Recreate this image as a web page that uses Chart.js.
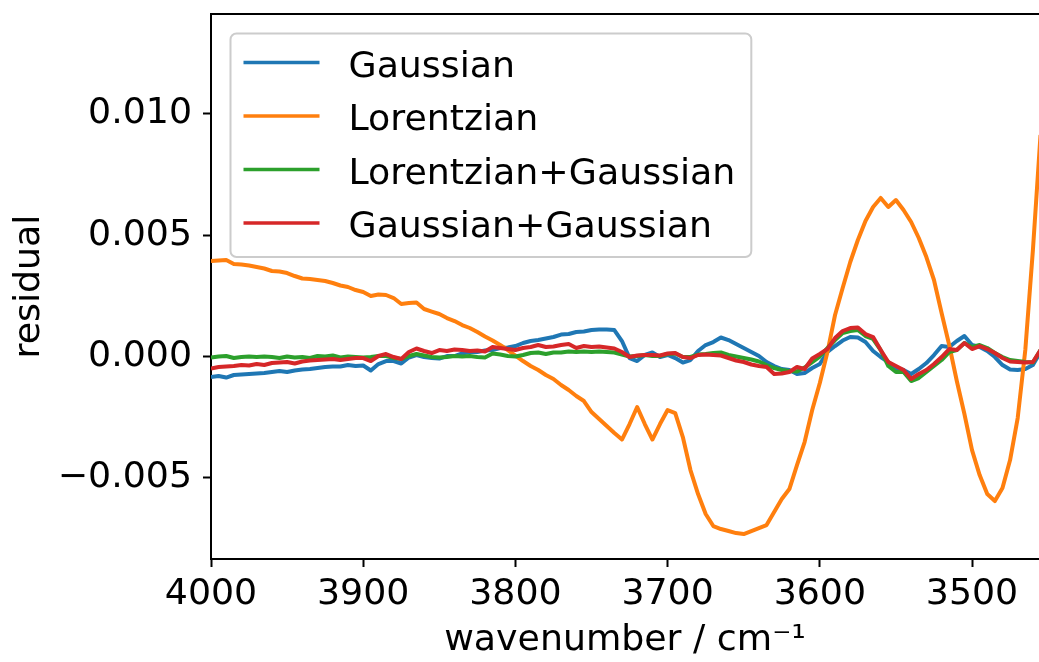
<!DOCTYPE html>
<html>
<head>
<meta charset="utf-8">
<script src="https://cdn.jsdelivr.net/npm/chart.js@4.4.0/dist/chart.umd.min.js"></script>
<style>
  html, body { margin: 0; padding: 0; background: #fff; }
  #wrap { width: 1039px; height: 662px; }
</style>
</head>
<body>
<div id="wrap"><canvas id="residualChart" width="1039" height="662"></canvas></div>
<script>
// --- data (wavenumber in cm^-1, residuals) ---
const wavenumber = [
  4000, 3995, 3990, 3985, 3980, 3975, 3970, 3965, 3960, 3955,
  3950, 3945, 3940, 3935, 3930, 3925, 3920, 3915, 3910, 3905,
  3900, 3895, 3890, 3885, 3880, 3875, 3870, 3865, 3860, 3855,
  3850, 3845, 3840, 3835, 3830, 3825, 3820, 3815, 3810, 3805,
  3800, 3795, 3790, 3785, 3780, 3775, 3770, 3765, 3760, 3755,
  3750, 3745, 3740, 3735, 3730, 3725, 3720, 3715, 3710, 3705,
  3700, 3695, 3690, 3685, 3680, 3675, 3670, 3665, 3660, 3655,
  3650, 3645, 3640, 3635, 3630, 3625, 3620, 3615, 3610, 3605,
  3600, 3595, 3590, 3585, 3580, 3575, 3570, 3565, 3560, 3555,
  3550, 3545, 3540, 3535, 3530, 3525, 3520, 3515, 3510, 3505,
  3500, 3495, 3490, 3485, 3480, 3475, 3470, 3465, 3460, 3455
];

const gaussian = [
  -0.000854, -0.000813, -0.000875, -0.000771, -0.000751, -0.000730, -0.000710, -0.000689, -0.000648, -0.000606,
  -0.000648, -0.000586, -0.000545, -0.000524, -0.000483, -0.000441, -0.000421, -0.000421, -0.000359, -0.000400,
  -0.000380, -0.000586, -0.000318, -0.000194, -0.000194, -0.000297, -0.000050, 0.000054, -0.000029, -0.000070,
  -0.000091, 0.000012, 0.000012, 0.000116, 0.000177, 0.000177, 0.000239, 0.000260, 0.000342, 0.000363,
  0.000425, 0.000549, 0.000631, 0.000672, 0.000734, 0.000796, 0.000899, 0.000920, 0.001002, 0.001023,
  0.001085, 0.001106, 0.001106, 0.001085, 0.000631, -0.000070, -0.000194, 0.000054, 0.000157, -0.000029,
  0.000054, -0.000070, -0.000256, -0.000153, 0.000219, 0.000466, 0.000590, 0.000776, 0.000672, 0.000507,
  0.000342, 0.000177, 0.000012, -0.000235, -0.000400, -0.000524, -0.000565, -0.000730, -0.000689, -0.000483,
  -0.000318, 0.000177, 0.000425, 0.000652, 0.000796, 0.000776, 0.000590, 0.000219, -0.000029, -0.000235,
  -0.000483, -0.000565, -0.000730, -0.000524, -0.000276, 0.000054, 0.000425, 0.000384, 0.000631, 0.000837,
  0.000466, 0.000384, 0.000219, -0.000029, -0.000359, -0.000545, -0.000565, -0.000524, -0.000359, 0.000177
];

const lorentzian = [
  0.003931, 0.003952, 0.003973, 0.003808, 0.003787, 0.003746, 0.003684, 0.003622, 0.003519, 0.003498,
  0.003436, 0.003312, 0.003210, 0.003189, 0.003148, 0.003106, 0.003024, 0.002921, 0.002859, 0.002735,
  0.002653, 0.002488, 0.002550, 0.002529, 0.002405, 0.002158, 0.002199, 0.002219, 0.001951, 0.001847,
  0.001745, 0.001580, 0.001456, 0.001291, 0.001168, 0.001002, 0.000817, 0.000652, 0.000466, 0.000260,
  0.000033, -0.000194, -0.000400, -0.000565, -0.000771, -0.000936, -0.001184, -0.001390, -0.001638, -0.001844,
  -0.002298, -0.002587, -0.002875, -0.003164, -0.003432, -0.002793, -0.002092, -0.002793, -0.003432, -0.002793,
  -0.002215, -0.002339, -0.003329, -0.004690, -0.005681, -0.006506, -0.007001, -0.007125, -0.007207, -0.007290,
  -0.007331, -0.007207, -0.007083, -0.006960, -0.006423, -0.005887, -0.005474, -0.004484, -0.003536, -0.002215,
  -0.001101, 0.000177, 0.001704, 0.002818, 0.003890, 0.004798, 0.005582, 0.006159, 0.006531, 0.006159,
  0.006448, 0.006035, 0.005540, 0.004880, 0.004096, 0.003148, 0.001786, 0.000466, -0.001019, -0.002380,
  -0.003866, -0.004897, -0.005681, -0.005969, -0.005433, -0.004278, -0.002545, 0.000260, 0.004386, 0.009130
];

const lorentzGauss = [
  -0.000050, -0.000008, 0.000012, -0.000070, -0.000029, -0.000008, -0.000029, -0.000008, -0.000029, -0.000070,
  -0.000008, -0.000050, -0.000029, -0.000070, 0.000012, -0.000008, 0.000033, -0.000050, -0.000008, -0.000029,
  -0.000050, -0.000029, 0.000012, 0.000012, -0.000070, -0.000111, 0.000012, 0.000095, 0.000033, -0.000029,
  -0.000050, -0.000029, 0.000012, -0.000008, 0.000012, -0.000029, -0.000050, 0.000116, 0.000074, 0.000012,
  -0.000008, 0.000054, 0.000136, 0.000157, 0.000095, 0.000157, 0.000157, 0.000198, 0.000177, 0.000198,
  0.000177, 0.000198, 0.000177, 0.000157, 0.000074, -0.000008, 0.000012, 0.000054, 0.000012, 0.000012,
  0.000095, 0.000116, -0.000029, -0.000029, 0.000074, 0.000095, 0.000136, 0.000157, 0.000054, -0.000008,
  -0.000070, -0.000132, -0.000215, -0.000359, -0.000483, -0.000565, -0.000606, -0.000627, -0.000462, -0.000235,
  -0.000008, 0.000342, 0.000672, 0.000961, 0.001044, 0.001085, 0.000837, 0.000714, 0.000260, -0.000400,
  -0.000648, -0.000648, -0.001019, -0.000895, -0.000648, -0.000400, -0.000153, 0.000177, 0.000260, 0.000549,
  0.000384, 0.000466, 0.000342, 0.000136, -0.000029, -0.000153, -0.000194, -0.000235, -0.000256, 0.000260
];

const gaussGauss = [
  -0.000503, -0.000441, -0.000421, -0.000400, -0.000359, -0.000380, -0.000318, -0.000359, -0.000276, -0.000256,
  -0.000235, -0.000297, -0.000215, -0.000173, -0.000153, -0.000132, -0.000111, -0.000153, -0.000111, -0.000070,
  -0.000070, -0.000194, 0.000012, 0.000095, -0.000029, -0.000111, 0.000177, 0.000322, 0.000219, 0.000136,
  0.000260, 0.000219, 0.000281, 0.000260, 0.000219, 0.000239, 0.000198, 0.000384, 0.000342, 0.000301,
  0.000260, 0.000342, 0.000384, 0.000466, 0.000384, 0.000404, 0.000466, 0.000507, 0.000342, 0.000425,
  0.000384, 0.000404, 0.000363, 0.000322, 0.000177, -0.000029, 0.000033, 0.000054, 0.000054, 0.000033,
  0.000116, 0.000136, -0.000029, -0.000070, 0.000054, 0.000074, 0.000054, 0.000033, -0.000070, -0.000173,
  -0.000235, -0.000338, -0.000400, -0.000441, -0.000730, -0.000710, -0.000648, -0.000441, -0.000524, -0.000091,
  0.000095, 0.000301, 0.000755, 0.001044, 0.001167, 0.001188, 0.000920, 0.000796, 0.000260, -0.000235,
  -0.000400, -0.000565, -0.000936, -0.000730, -0.000565, -0.000318, -0.000029, 0.000301, 0.000260, 0.000549,
  0.000301, 0.000425, 0.000301, 0.000136, -0.000070, -0.000215, -0.000235, -0.000256, -0.000235, 0.000260
];

const seriesNames = ['Gaussian', 'Lorentzian', 'Lorentzian+Gaussian', 'Gaussian+Gaussian'];
const seriesColors = ['#1f77b4', '#ff7f0e', '#2ca02c', '#d62728'];
const xTicks = [4000, 3900, 3800, 3700, 3600, 3500];
const yTicks = [-0.005, 0, 0.005, 0.010];

// --- style ---
const FONT = "'DejaVu Sans', sans-serif";
const FONT_SIZE = 36.3;

const toPoints = (ys) => wavenumber.map((w, i) => ({ x: w, y: ys[i] }));

// top spine (Chart.js only draws the axis borders)
const frame = {
  id: 'frame',
  afterDraw(chart) {
    const { ctx, chartArea: a } = chart;
    ctx.save();
    ctx.strokeStyle = '#000';
    ctx.lineWidth = 2;
    ctx.beginPath();
    ctx.moveTo(a.left - 1, a.top);
    ctx.lineTo(a.right, a.top);
    ctx.stroke();
    ctx.restore();
  }
};

// legend drawn inside the plot, matplotlib style
const insetLegend = {
  id: 'insetLegend',
  afterDraw(chart) {
    const { ctx, chartArea: a } = chart;
    ctx.save();
    ctx.font = `${FONT_SIZE}px ${FONT}`;
    const labels = chart.data.datasets.map(d => d.label);
    const maxW = Math.max(...labels.map(t => ctx.measureText(t).width));
    const x0 = a.left + 19.5, y0 = a.top + 19.5;
    const w = 118 + maxW + 16, rowH = 53.5, h = 29 + rowH * (labels.length - 1) + 34;
    const r = 6;

    ctx.beginPath();
    ctx.moveTo(x0 + r, y0);
    ctx.arcTo(x0 + w, y0, x0 + w, y0 + h, r);
    ctx.arcTo(x0 + w, y0 + h, x0, y0 + h, r);
    ctx.arcTo(x0, y0 + h, x0, y0, r);
    ctx.arcTo(x0, y0, x0 + w, y0, r);
    ctx.closePath();
    ctx.fillStyle = 'rgba(255,255,255,0.8)';
    ctx.fill();
    ctx.strokeStyle = '#cccccc';
    ctx.lineWidth = 2;
    ctx.stroke();

    chart.data.datasets.forEach((d, i) => {
      const cy = y0 + 29 + i * rowH;
      ctx.strokeStyle = d.borderColor;
      ctx.lineWidth = 3.5;
      ctx.beginPath();
      ctx.moveTo(x0 + 13, cy);
      ctx.lineTo(x0 + 89, cy);
      ctx.stroke();
      ctx.fillStyle = '#000';
      ctx.textBaseline = 'alphabetic';
      ctx.textAlign = 'left';
      ctx.fillText(d.label, x0 + 118, cy + 14);
    });
    ctx.restore();
  }
};

const allSeries = [gaussian, lorentzian, lorentzGauss, gaussGauss];

const datasets = allSeries.map((ys, i) => ({
  label: seriesNames[i],
  data: toPoints(ys),
  borderColor: seriesColors[i],
  backgroundColor: seriesColors[i],
  borderWidth: 4,
  pointRadius: 0,
  fill: false,
  tension: 0,
  borderJoinStyle: 'round',
  order: allSeries.length - i // later series drawn on top
}));

const tickFont = { family: FONT, size: FONT_SIZE };

new Chart(document.getElementById('residualChart'), {
  type: 'line',
  data: { datasets },
  options: {
    responsive: false,
    animation: false,
    layout: { padding: { top: 14, right: 0, bottom: 0, left: 0 } },
    plugins: {
      legend: { display: false },
      tooltip: { enabled: false }
    },
    scales: {
      x: {
        type: 'linear',
        reverse: true,
        min: 3456,
        max: 4000,
        afterBuildTicks: s => { s.ticks = xTicks.map(v => ({ value: v })); },
        afterFit: s => { s.height = 103; s.paddingLeft = 0; s.paddingRight = 0; },
        border: { display: true, color: '#000', width: 2 },
        grid: { drawOnChartArea: false, drawTicks: true, tickLength: 8, tickWidth: 2, tickColor: '#000' },
        ticks: { color: '#000', font: tickFont, padding: 6, maxRotation: 0, autoSkip: false, callback: v => String(v) },
        title: { display: true, text: 'wavenumber / cm\u207B\u00B9', color: '#000', font: tickFont, padding: { top: 0, bottom: 0 } }
      },
      y: {
        type: 'linear',
        min: -0.00836,
        max: 0.01412,
        afterBuildTicks: s => { s.ticks = yTicks.map(v => ({ value: v })); },
        afterFit: s => { s.width = 211; s.paddingTop = 0; s.paddingBottom = 0; },
        border: { display: true, color: '#000', width: 2 },
        grid: { drawOnChartArea: false, drawTicks: true, tickLength: 8, tickWidth: 2, tickColor: '#000' },
        ticks: {
          color: '#000', font: tickFont, padding: 11,
          callback: v => (v < 0 ? '\u2212' : '') + Math.abs(v).toFixed(3)
        },
        title: { display: true, text: 'residual', color: '#000', font: tickFont, padding: { top: 8, bottom: 0 } }
      }
    }
  },
  plugins: [frame, insetLegend]
});
</script>
</body>
</html>
